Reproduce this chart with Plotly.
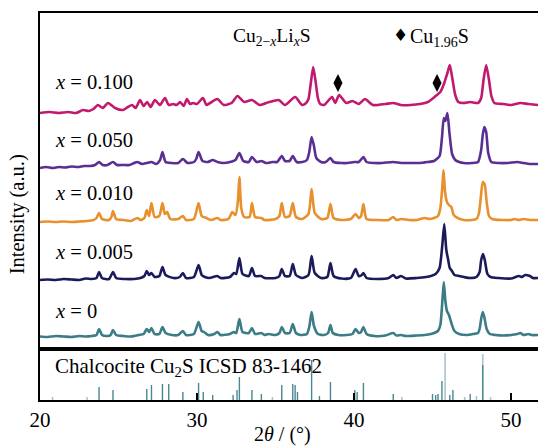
import plotly.graph_objects as go
from plotly.subplots import make_subplots

FONT = "Liberation Serif"

# ---- XRD patterns: (2-theta in deg, intensity above the trace's own baseline) ----
pattern_x0 = [
    (20.0, 0.5), (20.5, 0), (21.0, 1), (21.5, 0.5), (22.0, 0), (22.5, 1), (22.9, 0.5), (23.3, 1),
    (23.6, 2), (23.76, 8), (23.95, 2), (24.3, 1), (24.5, 2), (24.65, 7), (24.85, 2), (25.3, 1),
    (25.8, 0.5), (26.3, 2), (26.6, 3), (26.8, 8), (26.95, 5), (27.1, 9), (27.3, 3), (27.6, 3),
    (27.8, 10), (28.0, 4), (28.4, 2), (28.8, 2), (29.1, 6), (29.3, 2), (29.8, 3), (30.1, 15),
    (30.3, 6), (30.45, 5), (30.7, 2), (31.1, 3), (31.3, 5), (31.5, 2), (32.1, 3), (32.35, 5),
    (32.5, 4), (32.7, 18), (32.9, 5), (33.3, 4), (33.5, 9), (33.7, 3), (34.1, 4), (34.3, 2),
    (34.55, 3), (35.0, 2), (35.25, 4), (35.4, 10), (35.6, 4), (35.9, 4), (36.1, 13), (36.3, 4),
    (36.6, 2), (37.0, 3), (37.15, 10), (37.3, 25), (37.45, 11), (37.7, 3), (38.1, 2), (38.35, 4),
    (38.5, 12), (38.65, 4), (39.0, 2), (39.5, 2), (39.9, 3), (40.1, 8), (40.3, 4), (40.45, 5),
    (40.6, 10), (40.8, 3), (41.3, 1), (42.0, 1.5), (42.5, 4), (42.7, 1.5), (43.0, 2), (43.3, 1),
    (44.0, 1.5), (44.5, 2), (44.9, 3), (45.1, 4), (45.35, 6), (45.5, 12), (45.62, 34), (45.72, 55),
    (45.82, 36), (45.92, 26), (46.05, 22), (46.2, 14), (46.4, 6), (46.7, 3), (47.2, 2), (47.6, 3),
    (47.9, 4), (48.0, 8), (48.1, 18), (48.2, 25), (48.3, 20), (48.45, 8), (48.65, 3), (49.0, 2),
    (49.5, 1.5), (50.0, 2), (50.4, 3), (50.6, 4), (50.8, 2), (51.1, 3), (51.3, 2), (51.72, 2),
]

pattern_x005 = [
    (20.0, 0), (20.5, 0.5), (21.0, 0), (21.5, 1), (22.0, 0.5), (22.5, 0), (22.9, 1.5), (23.3, 1),
    (23.6, 2), (23.76, 8), (23.95, 2), (24.4, 1), (24.65, 8), (24.85, 2), (25.4, 1), (26.0, 1),
    (26.4, 2), (26.65, 4), (26.8, 9), (26.95, 5), (27.1, 7), (27.3, 3), (27.6, 4), (27.8, 13),
    (28.0, 5), (28.5, 2), (28.9, 3), (29.1, 7), (29.3, 2), (29.8, 3), (30.1, 15), (30.3, 5),
    (30.5, 3), (30.8, 2), (31.3, 4), (31.5, 2), (32.1, 3), (32.35, 7), (32.5, 6), (32.7, 22),
    (32.9, 6), (33.3, 4), (33.5, 12), (33.7, 4), (34.1, 4), (34.3, 2), (35.0, 2), (35.25, 4),
    (35.4, 11), (35.6, 4), (35.9, 4), (36.1, 16), (36.3, 5), (36.7, 2), (37.1, 5), (37.3, 24),
    (37.5, 7), (37.9, 2), (38.3, 3), (38.5, 17), (38.7, 4), (39.2, 1.5), (39.8, 2), (40.1, 11),
    (40.3, 4), (40.5, 5), (40.6, 7), (40.8, 2), (41.5, 1), (42.2, 2), (42.5, 5), (42.7, 2),
    (43.0, 4), (43.3, 1.5), (44.0, 2), (44.6, 3), (44.9, 4), (45.2, 6), (45.45, 12), (45.62, 34),
    (45.75, 56), (45.88, 30), (46.0, 20), (46.1, 12), (46.2, 10), (46.4, 5), (46.7, 4), (47.0, 3),
    (47.4, 2), (47.8, 3), (48.0, 8), (48.1, 20), (48.22, 26), (48.33, 20), (48.5, 6), (48.7, 3),
    (49.2, 2), (50.0, 1.5), (50.5, 4), (50.7, 3), (50.9, 5), (51.2, 4), (51.4, 2), (51.72, 2),
]

pattern_x010 = [
    (20.0, 0), (20.5, 0.5), (21.0, 0), (21.5, 0.5), (22.0, 0), (22.5, 0.5), (23.0, 1), (23.4, 2),
    (23.6, 4), (23.76, 9), (23.95, 3), (24.4, 2), (24.55, 5), (24.65, 11), (24.85, 3), (25.3, 2),
    (25.8, 1), (26.2, 4), (26.4, 2), (26.65, 4), (26.8, 12), (26.95, 6), (27.1, 19), (27.3, 5),
    (27.6, 6), (27.8, 19), (27.95, 8), (28.1, 10), (28.3, 3), (28.8, 3), (29.1, 6), (29.3, 2),
    (29.8, 3), (30.1, 19), (30.3, 6), (30.6, 4), (30.9, 2), (31.3, 4), (31.5, 2), (32.0, 3),
    (32.25, 10), (32.45, 7), (32.6, 20), (32.7, 45), (32.82, 14), (33.0, 5), (33.35, 5), (33.5, 19),
    (33.7, 5), (34.1, 4), (34.3, 2), (35.0, 3), (35.25, 6), (35.4, 19), (35.6, 5), (35.9, 6),
    (36.1, 19), (36.3, 5), (36.7, 3), (37.1, 8), (37.3, 33), (37.5, 9), (37.9, 3), (38.3, 4),
    (38.5, 18), (38.7, 4), (39.2, 2), (39.8, 3), (40.1, 8), (40.3, 4), (40.45, 6), (40.6, 18),
    (40.8, 3), (41.5, 2), (42.2, 2), (42.5, 5), (42.7, 2), (43.0, 3), (43.5, 2), (44.0, 2),
    (44.5, 4), (44.8, 3), (45.1, 4), (45.35, 6), (45.5, 14), (45.62, 34), (45.7, 52), (45.8, 30),
    (45.92, 20), (46.05, 17), (46.2, 15), (46.35, 7), (46.6, 4), (47.0, 2), (47.5, 2), (47.8, 3),
    (47.95, 8), (48.08, 25), (48.2, 40), (48.32, 38), (48.45, 20), (48.6, 6), (48.8, 3), (49.5, 2),
    (50.0, 2), (50.2, 3), (50.5, 2), (50.8, 3), (51.2, 2), (51.72, 2),
]

pattern_x050 = [
    (20.0, 0), (20.4, 1), (20.8, 0), (21.2, 1), (21.6, 0.5), (22.0, 1.5), (22.4, 1), (22.8, 2),
    (23.2, 2), (23.5, 3), (23.76, 6), (24.0, 3), (24.3, 3), (24.65, 6), (24.9, 3), (25.3, 3),
    (25.7, 3), (26.0, 5), (26.2, 6), (26.5, 4), (26.8, 5), (27.1, 6), (27.4, 4), (27.65, 8),
    (27.8, 16), (28.0, 6), (28.4, 5), (28.8, 5), (29.1, 9), (29.4, 5), (29.8, 6), (29.95, 9),
    (30.1, 16), (30.35, 7), (30.7, 6), (31.0, 8), (31.3, 6), (31.7, 5), (32.1, 6), (32.45, 8),
    (32.7, 15), (32.95, 7), (33.3, 6), (33.5, 11), (33.8, 6), (34.1, 7), (34.4, 5), (34.8, 6),
    (35.1, 6), (35.4, 12), (35.6, 7), (35.9, 7), (36.1, 12), (36.35, 6), (36.7, 6), (37.0, 8),
    (37.15, 16), (37.3, 31), (37.45, 22), (37.6, 10), (37.9, 6), (38.2, 6), (38.5, 10), (38.7, 6),
    (39.2, 5), (39.6, 5), (40.0, 6), (40.3, 6), (40.6, 11), (40.8, 6), (41.3, 5), (41.8, 5),
    (42.5, 6), (43.0, 5), (43.6, 5), (44.2, 5), (44.7, 6), (45.1, 7), (45.45, 12), (45.6, 30),
    (45.72, 50), (45.82, 47), (45.95, 55), (46.08, 35), (46.25, 14), (46.45, 8), (46.7, 6), (47.0, 5),
    (47.5, 5), (47.9, 6), (48.1, 18), (48.2, 33), (48.3, 41), (48.42, 36), (48.55, 15), (48.75, 6),
    (49.2, 5), (49.8, 5), (50.4, 6), (50.8, 5), (51.2, 4), (51.72, 4),
]

pattern_x100 = [
    (20.0, 0), (20.6, 1), (21.2, 0), (21.8, 1), (22.3, 0), (22.74, 3), (23.1, 2), (23.4, 4),
    (23.69, 8), (24.0, 5), (24.33, 10), (24.78, 5), (25.29, 3), (25.6, 6), (25.86, 8), (26.1, 5),
    (26.37, 13), (26.6, 7), (26.82, 11), (27.05, 6), (27.32, 13), (27.64, 8), (27.96, 15), (28.2, 8),
    (28.47, 9), (28.7, 8), (28.92, 11), (29.15, 7), (29.36, 14), (29.55, 9), (29.75, 10), (30.0, 9),
    (30.38, 15), (30.6, 8), (30.83, 10), (31.3, 14), (31.7, 8), (32.2, 10), (32.58, 17), (33.0, 11),
    (33.5, 13), (34.0, 8), (34.6, 11), (35.2, 13), (35.6, 8), (36.25, 16), (36.7, 8), (36.95, 10),
    (37.1, 14), (37.25, 30), (37.4, 46), (37.55, 32), (37.7, 15), (37.85, 9), (38.1, 8), (38.6, 16),
    (38.8, 10), (39.05, 18), (39.5, 10), (39.9, 12), (40.3, 9), (40.7, 14), (41.2, 8), (42.0, 9),
    (42.5, 10), (43.0, 8), (43.6, 8), (44.2, 9), (44.7, 11), (45.2, 17), (45.5, 21), (45.75, 30),
    (45.95, 40), (46.1, 48), (46.25, 36), (46.45, 18), (46.65, 11), (47.0, 10), (47.4, 11), (47.9, 10),
    (48.1, 15), (48.25, 33), (48.42, 48), (48.6, 33), (48.75, 17), (48.95, 10), (49.5, 9), (50.0, 8),
    (50.6, 10), (51.1, 9), (51.72, 8),
]

# label, pattern, stacking offset (a.u.), colour, label height
series = [
    ("<i>x</i> = 0", pattern_x0, 12, "#3b7c86", 38),
    ("<i>x</i> = 0.005", pattern_x005, 69, "#1b1b5c", 97),
    ("<i>x</i> = 0.010", pattern_x010, 127, "#e8902c", 156),
    ("<i>x</i> = 0.050", pattern_x050, 181, "#5a2f92", 209),
    ("<i>x</i> = 0.100", pattern_x100, 236, "#c2186e", 267),
]

# Cu1.96S impurity reflections marked on the x = 0.100 pattern
impurity_tt = [38.98, 45.29]
impurity_y = [266, 266]

# Chalcocite Cu2S reference (ICSD 83-1462): positions and relative intensities
ref_tt_main = [23.76, 24.65, 26.8, 27.1, 27.8, 28.2, 29.1, 30.1, 30.4, 31.0, 32.3, 32.55, 32.7, 33.5, 34.1,
               35.4, 36.1, 36.25, 36.4, 37.3, 37.8, 38.5, 40.05, 40.2, 40.6, 42.5, 45.0, 45.2, 45.35, 45.6,
               46.1, 46.3, 47.4, 48.2]
ref_int_main = [13, 10, 11, 15, 16, 16, 8, 17, 8, 5, 5, 10, 23, 10, 6,
                15, 16, 15, 8, 40, 4, 18, 10, 8, 17, 6, 6, 5, 6, 19,
                5, 10, 6, 35]
ref_tt_weak = [20.8, 23.0, 34.8, 43.05, 45.8, 47.05, 47.8, 48.2, 48.7]
ref_int_weak = [3, 3, 3, 3, 47, 3, 4, 46, 3]

fig = make_subplots(rows=2, cols=1, shared_xaxes=True, vertical_spacing=0,
                    row_heights=[336, 51])

for label, pattern, off, color, _ in series:
    tt = [p[0] for p in pattern]
    inten = [p[1] + off for p in pattern]
    fig.add_trace(go.Scatter(x=tt, y=inten, mode="lines",
                             line=dict(color=color, width=2.6, shape="spline", smoothing=0.6),
                             showlegend=False), row=1, col=1)

fig.add_trace(go.Scatter(x=impurity_tt, y=impurity_y, mode="markers",
                         marker=dict(symbol="diamond-tall", size=13, color="black"),
                         showlegend=False), row=1, col=1)


def sticks(tt, inten):
    xs, ys = [], []
    for t, v in zip(tt, inten):
        xs += [t, t, None]
        ys += [0, v, None]
    return xs, ys


wx, wy = sticks(ref_tt_weak, ref_int_weak)
fig.add_trace(go.Scatter(x=wx, y=wy, mode="lines", line=dict(color="#a9c4cc", width=1.6),
                         showlegend=False), row=2, col=1)
mx, my = sticks(ref_tt_main, ref_int_main)
fig.add_trace(go.Scatter(x=mx, y=my, mode="lines", line=dict(color="#4a8793", width=1.4),
                         showlegend=False), row=2, col=1)

annotations = []
for label, pattern, off, color, ly in series:
    annotations.append(dict(x=20.83, y=ly, xref="x", yref="y", text=label, showarrow=False,
                            xanchor="left", yanchor="middle",
                            font=dict(family=FONT, size=20.5, color="black")))

annotations += [
    dict(x=34.78, y=312, xref="x", yref="y", showarrow=False, xanchor="center", yanchor="middle",
         text="Cu<sub>2−<i>x</i></sub>Li<sub><i>x</i></sub>S",
         font=dict(family=FONT, size=19.5, color="black")),
    dict(x=42.93, y=314, xref="x", yref="y", showarrow=False, xanchor="center", yanchor="middle",
         text="♦", font=dict(family="DejaVu Sans", size=17, color="black")),
    dict(x=43.45, y=312, xref="x", yref="y", showarrow=False, xanchor="left", yanchor="middle",
         text="Cu<sub>1.96</sub>S", font=dict(family=FONT, size=20, color="black")),
    dict(x=20.83, y=33, xref="x2", yref="y2", showarrow=False, xanchor="left", yanchor="middle",
         text="Chalcocite Cu<sub>2</sub>S ICSD 83-1462",
         font=dict(family=FONT, size=21, color="black")),
    dict(x=-0.046, y=0.48, xref="paper", yref="paper", showarrow=False, textangle=-90,
         xanchor="center", yanchor="middle", text="Intensity (a.u.)",
         font=dict(family=FONT, size=20.5, color="black")),
    dict(x=0.486, y=-0.055, xref="paper", yref="paper", showarrow=False,
         xanchor="center", yanchor="top", text="2<i>θ</i> / (°)",
         font=dict(family=FONT, size=20, color="black")),
]

axis_common = dict(showgrid=False, zeroline=False, showline=True, linecolor="black", linewidth=2)

fig.update_layout(
    width=538, height=448,
    margin=dict(l=40, r=0, t=13, b=48),
    paper_bgcolor="white", plot_bgcolor="white",
    annotations=annotations,
    xaxis=dict(range=[20, 51.72], mirror=True, ticks="", showticklabels=False, **axis_common),
    xaxis2=dict(range=[20, 51.72], mirror=True, ticks="inside", ticklen=7, tickwidth=1.5,
                tickcolor="black", tickvals=[20, 30, 40, 50],
                tickfont=dict(family=FONT, size=21, color="black"), **axis_common),
    yaxis=dict(range=[0, 336], showticklabels=False, ticks="", **axis_common),
    yaxis2=dict(range=[0, 51], showticklabels=False, ticks="", **axis_common),
)

fig.write_html("out.html")
